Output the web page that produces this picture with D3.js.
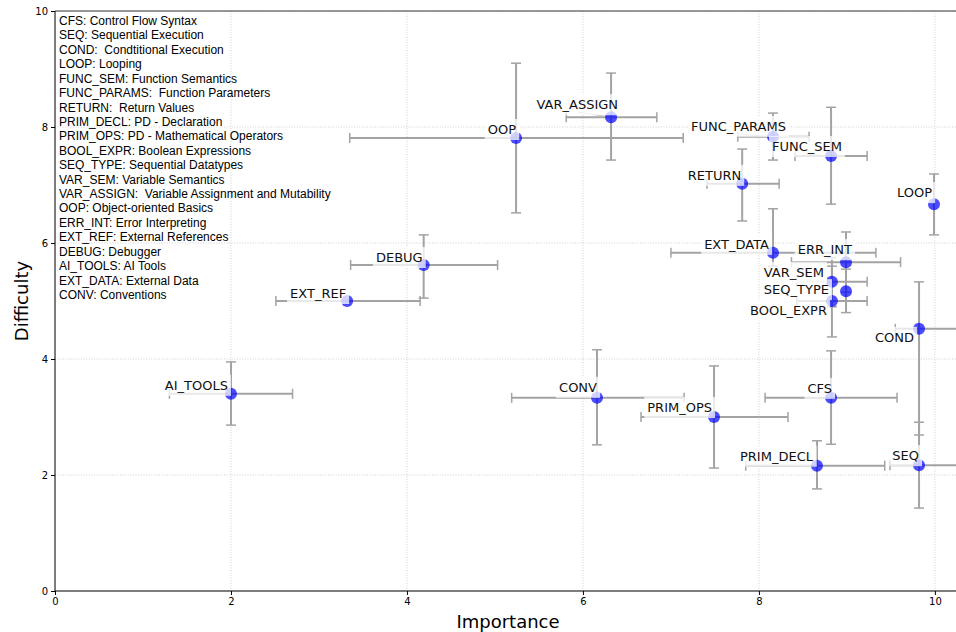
<!DOCTYPE html>
<html>
<head>
<meta charset="utf-8">
<script src="https://cdn.jsdelivr.net/npm/d3@7"></script>
<style>
  html, body { margin: 0; padding: 0; background: #fff; }
  svg { display: block; }
</style>
</head>
<body>
<svg id="chart" width="956" height="632"></svg>
<script>
// ---------------- data ----------------
const categories = ["CFS","SEQ","COND","LOOP","FUNC_SEM","FUNC_PARAMS","RETURN","PRIM_DECL","PRIM_OPS","BOOL_EXPR","SEQ_TYPE","VAR_SEM","VAR_ASSIGN","OOP","ERR_INT","EXT_REF","DEBUG","AI_TOOLS","EXT_DATA","CONV"];
const importance = [8.82, 9.82, 9.82, 9.99, 8.82, 8.16, 7.81, 8.66, 7.49, 8.83, 8.99, 8.83, 6.32, 5.24, 8.99, 3.32, 4.19, 2.00, 8.16, 6.16];
const difficulty = [3.33, 2.17, 4.52, 6.67, 7.50, 7.83, 7.02, 2.16, 3.00, 5.00, 5.17, 5.33, 8.17, 7.81, 5.67, 5.00, 5.62, 3.40, 5.83, 3.33];
const importanceLow  = [8.07, 9.49, 9.55, 9.99, 8.41, 7.76, 7.41, 7.85, 6.66, 8.43, 8.99, 8.43, 5.81, 3.35, 8.37, 2.51, 3.36, 1.30, 7.00, 5.19];
const importanceHigh = [9.57, 10.40, 10.40, 9.99, 9.23, 8.57, 8.23, 9.43, 8.33, 9.23, 8.99, 9.23, 6.84, 7.14, 9.61, 4.15, 5.03, 2.70, 9.33, 7.15];
const difficultyLow  = [2.53, 1.43, 2.69, 6.14, 6.67, 7.43, 6.38, 1.76, 2.12, 4.38, 4.80, 4.90, 7.43, 6.52, 5.15, 5.00, 5.05, 2.86, 5.60, 2.52];
const difficultyHigh = [4.14, 2.91, 5.33, 7.19, 8.34, 8.24, 7.62, 2.59, 3.88, 5.60, 5.55, 5.75, 8.93, 9.10, 6.19, 5.00, 6.14, 3.95, 6.59, 4.16];
const xTicks = [0, 2, 4, 6, 8, 10];
const yTicks = [0, 2, 4, 6, 8, 10];
const legendLines = [
  "CFS: Control Flow Syntax",
  "SEQ: Sequential Execution",
  "COND:  Condtitional Execution",
  "LOOP: Looping",
  "FUNC_SEM: Function Semantics",
  "FUNC_PARAMS:  Function Parameters",
  "RETURN:  Return Values",
  "PRIM_DECL: PD - Declaration",
  "PRIM_OPS: PD - Mathematical Operators",
  "BOOL_EXPR: Boolean Expressions",
  "SEQ_TYPE: Sequential Datatypes",
  "VAR_SEM: Variable Semantics",
  "VAR_ASSIGN:  Variable Assignment and Mutability",
  "OOP: Object-oriented Basics",
  "ERR_INT: Error Interpreting",
  "EXT_REF: External References",
  "DEBUG: Debugger",
  "AI_TOOLS: AI Tools",
  "EXT_DATA: External Data",
  "CONV: Conventions"
];
const xLabel = "Importance";
const yLabel = "Difficulty";

// ---------------- layout (label placement, px offsets from point) ----------------
const labelLayout = {
  CFS: [1, -5], SEQ: [0, -5], COND: [-5, 13], LOOP: [-2, -7], FUNC_SEM: [11, -5, true],
  FUNC_PARAMS: [13, -6, true], RETURN: [-1, -4], PRIM_DECL: [-4, -5], PRIM_OPS: [-2, -5],
  BOOL_EXPR: [-5, 14], SEQ_TYPE: [-17, 3], VAR_SEM: [-8, -5], VAR_ASSIGN: [7, -8, true],
  OOP: [0, -4], ERR_INT: [6, -8], EXT_REF: [-1, -3], DEBUG: [-1, -3], AI_TOOLS: [-3, -4],
  EXT_DATA: [-4, -4], CONV: [0, -6]
};

const data = categories.map((c, i) => ({
  name: c, x: importance[i], y: difficulty[i],
  xl: importanceLow[i], xh: importanceHigh[i], yl: difficultyLow[i], yh: difficultyHigh[i]
}));

const svg = d3.select("#chart");
const L = 55, R = 956, T = 11, B = 591;
const x = d3.scaleLinear().domain([0, 10.24]).range([L, R]);
const y = d3.scaleLinear().domain([0, 10]).range([B, T]);

const defs = svg.append("defs");
defs.append("clipPath").attr("id", "clip").append("rect")
  .attr("x", L).attr("y", T).attr("width", R - L).attr("height", B - T);

const plot = svg.append("g").attr("clip-path", "url(#clip)");

// grid
plot.append("g").selectAll("line").data(xTicks).join("line")
  .attr("x1", d => x(d)).attr("x2", d => x(d)).attr("y1", T).attr("y2", B)
  .attr("stroke", "#c4c4c4").attr("stroke-width", 0.8).attr("stroke-dasharray", "1,1.6");
plot.append("g").selectAll("line").data(yTicks).join("line")
  .attr("y1", d => y(d)).attr("y2", d => y(d)).attr("x1", L).attr("x2", R)
  .attr("stroke", "#c4c4c4").attr("stroke-width", 0.8).attr("stroke-dasharray", "1,1.6");

// error bars
const ebColor = "#a3a3a3", cap = 5;
const eb = plot.append("g").attr("stroke", ebColor).attr("stroke-width", 2).attr("fill", "none");
data.forEach(d => {
  if (d.xh > d.xl) {
    eb.append("line").attr("x1", x(d.xl)).attr("x2", x(d.xh)).attr("y1", y(d.y)).attr("y2", y(d.y));
    [d.xl, d.xh].forEach(v => eb.append("line").attr("stroke-width", 1.5)
      .attr("x1", x(v)).attr("x2", x(v)).attr("y1", y(d.y) - cap).attr("y2", y(d.y) + cap));
  }
  if (d.yh > d.yl) {
    eb.append("line").attr("x1", x(d.x)).attr("x2", x(d.x)).attr("y1", y(d.yl)).attr("y2", y(d.yh));
    [d.yl, d.yh].forEach(v => eb.append("line").attr("stroke-width", 1.5)
      .attr("y1", y(v)).attr("y2", y(v)).attr("x1", x(d.x) - cap).attr("x2", x(d.x) + cap));
  }
});

// leader lines
const leaders = plot.append("g");
// markers
const markers = plot.append("g");
markers.selectAll("circle").data(data).join("circle")
  .attr("cx", d => x(d.x)).attr("cy", d => y(d.y)).attr("r", 6)
  .attr("fill", "#0000ff").attr("fill-opacity", 0.7);

// labels
const labG = plot.append("g");
data.forEach(d => {
  const off = labelLayout[d.name] || [-2, -5];
  const g = labG.append("g");
  const t = g.append("text")
    .attr("x", x(d.x) + off[0]).attr("y", y(d.y) + off[1])
    .attr("text-anchor", "end")
    .attr("font-family", "DejaVu Sans").attr("font-size", 13).attr("fill", "#111")
    .text(d.name);
  const bb = t.node().getBBox();
  const pad = 3;
  g.insert("rect", "text")
    .attr("x", bb.x - pad).attr("y", bb.y - pad)
    .attr("width", bb.width + 2 * pad).attr("height", bb.height + 2 * pad)
    .attr("fill", "#fff").attr("fill-opacity", 0.75);
  if (off[2]) {
    leaders.append("line")
      .attr("x1", bb.x + bb.width / 2).attr("y1", bb.y + bb.height)
      .attr("x2", x(d.x)).attr("y2", y(d.y))
      .attr("stroke", "#bdbdbd").attr("stroke-width", 1);
  }
});

// legend text
svg.append("g").selectAll("text").data(legendLines).join("text")
  .attr("x", 59).attr("y", (d, i) => 25 + i * 14.42)
  .attr("font-family", "Liberation Sans, Arial, sans-serif").attr("font-size", 12)
  .attr("fill", "#000").style("white-space", "pre")
  .text(d => d);

// axes
const xAxis = svg.append("g").attr("transform", `translate(0,${B})`)
  .call(d3.axisBottom(x).tickValues(xTicks).tickSize(4).tickPadding(3).tickFormat(d3.format("d")));
const yAxis = svg.append("g").attr("transform", `translate(${L},0)`)
  .call(d3.axisLeft(y).tickValues(yTicks).tickSize(4).tickPadding(3).tickFormat(d3.format("d")));
[xAxis, yAxis].forEach(a => {
  a.select(".domain").remove();
  a.selectAll("text").attr("font-family", "DejaVu Sans").attr("font-size", 10).attr("fill", "#000");
  a.selectAll("line").attr("stroke", "#000");
});
// spines
svg.append("line").attr("x1", L).attr("x2", R).attr("y1", B).attr("y2", B).attr("stroke", "#000").attr("stroke-width", 1.2);
svg.append("line").attr("x1", L).attr("x2", L).attr("y1", T).attr("y2", B).attr("stroke", "#000").attr("stroke-width", 1);
svg.append("line").attr("x1", L).attr("x2", R).attr("y1", T).attr("y2", T).attr("stroke", "#333").attr("stroke-width", 1.2);

// axis labels
svg.append("text").attr("x", 508).attr("y", 628)
  .attr("text-anchor", "middle").attr("font-family", "DejaVu Sans").attr("font-size", 18)
  .attr("fill", "#000").text(xLabel);
svg.append("text").attr("transform", `translate(28,${(T + B) / 2}) rotate(-90)`)
  .attr("text-anchor", "middle").attr("font-family", "DejaVu Sans").attr("font-size", 18)
  .attr("fill", "#000").text(yLabel);
</script>
</body>
</html>
